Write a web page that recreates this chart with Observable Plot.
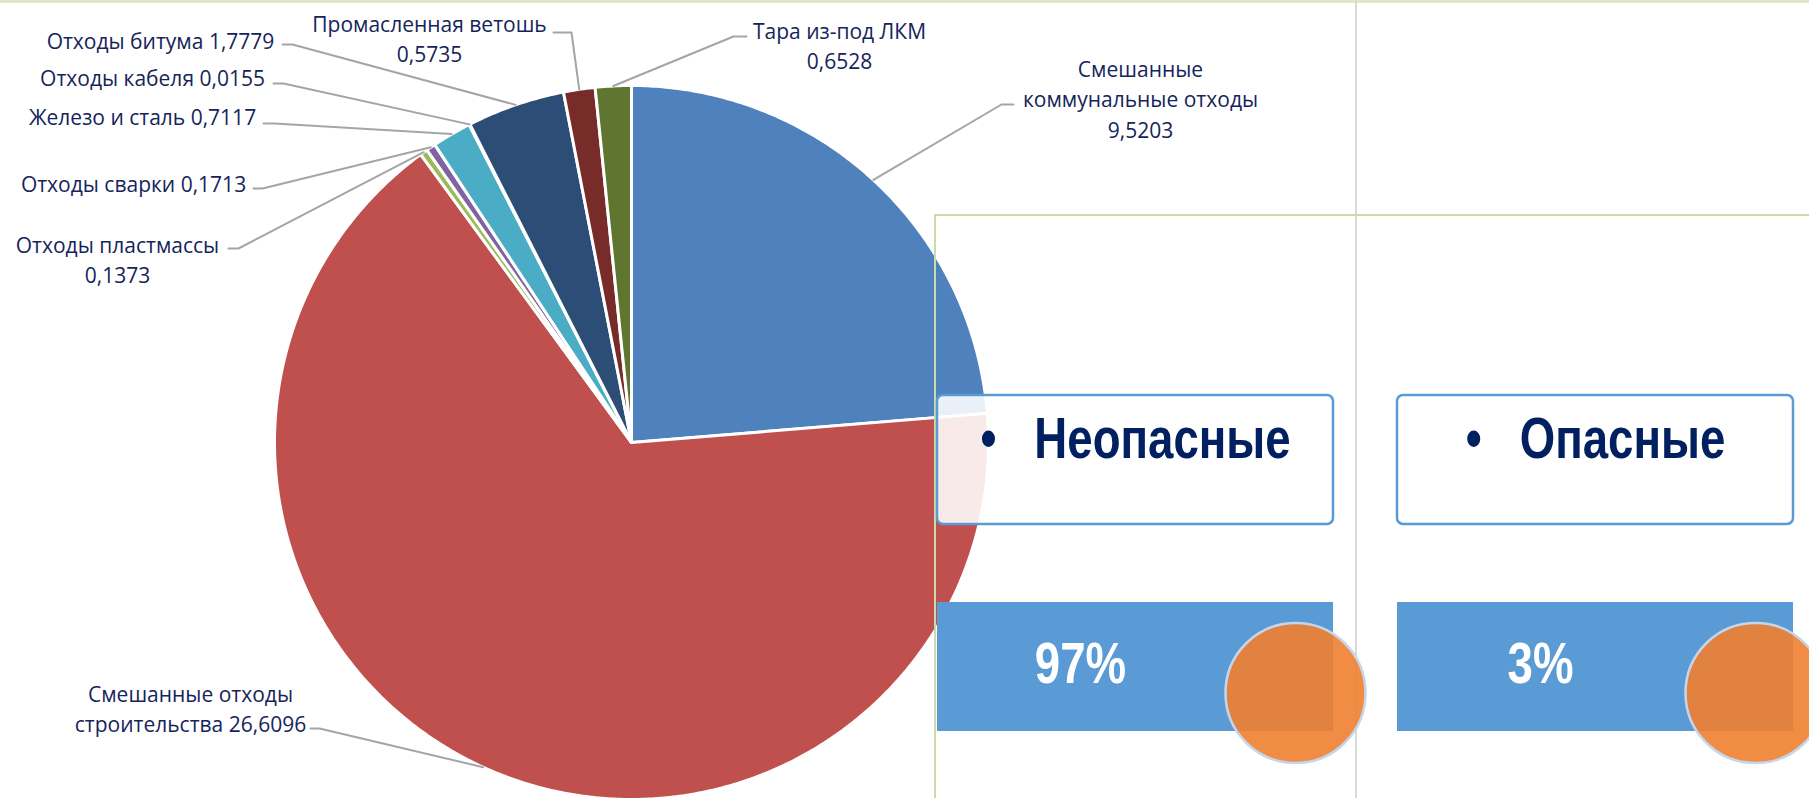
<!DOCTYPE html>
<html><head><meta charset="utf-8">
<script src="https://cdn.jsdelivr.net/npm/d3@7"></script>
<script src="https://cdn.jsdelivr.net/npm/@observablehq/plot@0.6"></script>
<style>
html,body{margin:0;padding:0;background:#fff;overflow:hidden}
#wrap{position:relative;width:1809px;height:798px;overflow:hidden}
#wrap > svg{position:absolute;left:0;top:0}
.deco{position:absolute}
</style></head><body><div id="wrap"></div>
<script>
// ---------- data ----------
const wasteNames = ["Смешанные коммунальные отходы","Смешанные отходы строительства","Отходы пластмассы","Отходы сварки","Железо и сталь","Отходы кабеля","Отходы битума","Промасленная ветошь","Тара из-под ЛКМ"];
const wasteValues = [9.5203, 26.6096, 0.1373, 0.1713, 0.7117, 0.0155, 1.7779, 0.5735, 0.6528];
const wasteLabels = ["Смешанные\nкоммунальные отходы\n9,5203","Смешанные отходы\nстроительства 26,6096","Отходы пластмассы\n0,1373","Отходы сварки 0,1713","Железо и сталь 0,7117","Отходы кабеля 0,0155","Отходы битума 1,7779","Промасленная ветошь\n0,5735","Тара из-под ЛКМ\n0,6528"];
const wasteColors = ["#4F81BD","#C0504D","#9BBB59","#8064A2","#4BACC6","#F79646","#2C4D75","#772C2A","#5F7530"];
const hazardGroups = ["Неопасные","Опасные"];
const hazardShares = [97, 3];
const hazardShareLabels = ["97%","3%"];

// ---------- layout ----------
const W = 1809, H = 798;
const PIE = {cx: 631, cy: 442, r: 357};
// label layout in pixels: text block centre, leader elbow, leader end
const labelLayout = [
  {tx:1140, ty:97,  ex:1001, ey:104, lx:1013, ly:104},
  {tx:190,  ty:707, ex:319,  ey:728, lx:310,  ly:728},
  {tx:117,  ty:258, ex:238,  ey:248, lx:228,  ly:248},
  {tx:133,  ty:182, ex:262,  ey:188, lx:253,  ly:188},
  {tx:142,  ty:115, ex:274,  ey:123, lx:263,  ly:123},
  {tx:152,  ty:76,  ex:283,  ey:83,  lx:273,  ly:83},
  {tx:160,  ty:39,  ex:292,  ey:44,  lx:282,  ly:44},
  {tx:429,  ty:37,  ex:571,  ey:32,  lx:553,  ly:32},
  {tx:839,  ty:44,  ex:733,  ey:36,  lx:746,  ly:36}
];
const ux = px => (px - PIE.cx) / PIE.r;
const uy = py => (PIE.cy - py) / PIE.r;

// ---------- pie geometry (from data) ----------
const total = d3.sum(wasteValues);
let acc = 0;
const slices = wasteNames.map((name, i) => {
  const a0 = acc / total * 2 * Math.PI; acc += wasteValues[i];
  const a1 = acc / total * 2 * Math.PI;
  return {name, a0, a1, mid: (a0 + a1) / 2};
});
const piePts = [];
for (const s of slices) {
  piePts.push({name: s.name, x: 0, y: 0});
  const n = Math.max(2, Math.ceil((s.a1 - s.a0) / (Math.PI / 360)));
  for (let k = 0; k <= n; k++) {
    const a = s.a0 + (s.a1 - s.a0) * k / n;
    piePts.push({name: s.name, x: Math.sin(a), y: Math.cos(a)});
  }
}
const leaderPts = [];
slices.forEach((s, i) => {
  const L = labelLayout[i];
  leaderPts.push({name: s.name, x: Math.sin(s.mid), y: Math.cos(s.mid)});
  leaderPts.push({name: s.name, x: ux(L.ex), y: uy(L.ey)});
  leaderPts.push({name: s.name, x: ux(L.lx), y: uy(L.ly)});
});
const labelRows = slices.map((s, i) => ({name: s.name, label: wasteLabels[i], x: ux(labelLayout[i].tx), y: uy(labelLayout[i].ty)}));

const labelFont = "'Open Sans','Noto Sans',sans-serif";
const pie = Plot.plot({
  width: W, height: H, margin: 0,
  x: {domain: [ux(0), ux(W)], axis: null},
  y: {domain: [uy(H), uy(0)], axis: null},
  color: {domain: wasteNames, range: wasteColors},
  marks: [
    Plot.line(piePts, {x: "x", y: "y", z: "name", fill: "name", stroke: "white", strokeWidth: 3, strokeLinejoin: "round", curve: "linear-closed"}),
    Plot.line(leaderPts, {x: "x", y: "y", z: "name", stroke: "#A5A5A5", strokeWidth: 2}),
    Plot.text(labelRows, {x: "x", y: "y", text: "label", textAnchor: "middle", fontSize: 21, lineHeight: 1.45, fill: "#15245A", fontFamily: labelFont})
  ]
});
const wrap = document.getElementById("wrap");
wrap.appendChild(pie);

// decorative frame lines
const decos = [
  {l:0, t:0, w:W, h:3, c:"#DCE8C6"},
  {l:1355, t:0, w:2, h:H, c:"#D9D9D9"},
  {l:934, t:214, w:W-934, h:2, c:"#C9DCA8"},
  {l:934, t:214, w:2, h:H-214, c:"#C9DCA8"}
];
for (const d of decos) {
  const el = document.createElement("div");
  el.className = "deco";
  el.style.cssText = `left:${d.l}px;top:${d.t}px;width:${d.w}px;height:${d.h}px;background:${d.c}`;
  wrap.appendChild(el);
}

// ---------- hazard panel ----------
const hazRows = hazardGroups.map((g, i) => ({group: g, share: hazardShares[i], label: hazardShareLabels[i]}));
const headFont = "'Liberation Sans',Arial,sans-serif";
const panel = Plot.plot({
  width: W, height: H,
  marginLeft: 937, marginRight: 15, marginTop: 395, marginBottom: 67,
  x: {type: "band", domain: hazardGroups, paddingInner: 0.139, paddingOuter: 0, axis: null},
  y: {type: "band", domain: ["head", "value"], paddingInner: 0.377, paddingOuter: 0, axis: null},
  marks: [
    Plot.cell(hazRows, {x: "group", y: () => "head", fill: "white", fillOpacity: 0.88, stroke: "#5B9BD5", strokeWidth: 2.5, rx: 6, inset: 0}),
    Plot.text(hazRows, {x: "group", y: () => "head", text: d => "•\u00A0\u00A0\u00A0" + d.group, fontSize: 57, fontWeight: "bold", fill: "#002060", fontFamily: headFont, dy: -20}),
    Plot.cell(hazRows, {x: "group", y: () => "value", fill: "#5B9BD5", inset: 0}),
    Plot.text(hazRows, {x: "group", y: () => "value", text: "label", dx: -55, dy: -2, fontSize: 57, fontWeight: "bold", fill: "white", fontFamily: headFont}),
    Plot.dot(hazRows, {x: "group", y: () => "value", r: 70, dx: 160, dy: 26, fill: "#F08030", fillOpacity: 0.9, stroke: "#C5D5EA", strokeWidth: 2.5})
  ]
});
wrap.appendChild(panel);
// condensed (Arial Narrow-like) rendering of the panel texts
panel.querySelectorAll("text").forEach(t => {
  const w = t.getComputedTextLength();
  t.setAttribute("textLength", (w * 0.8).toFixed(1));
  t.setAttribute("lengthAdjust", "spacingAndGlyphs");
});
</script></body></html>
